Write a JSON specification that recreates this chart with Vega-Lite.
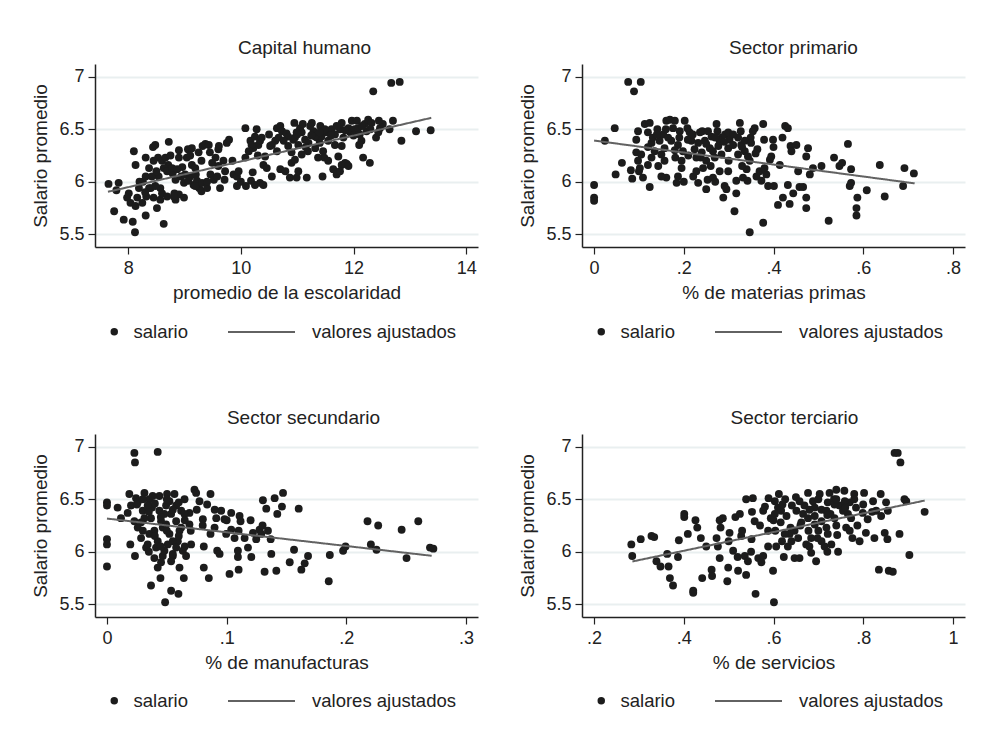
{
  "$schema": "https://vega.github.io/schema/vega-lite/v6.json",
  "background": "white",
  "padding": {"left": 31, "top": 39, "right": 10, "bottom": 5},
  "columns": 2,
  "spacing": {"row": 67, "column": 40},
  "resolve": {"scale": {"color": "independent", "strokeDash": "independent"}, "legend": {"color": "independent", "strokeDash": "independent"}},
  "datasets": {
    "h": [{"x":7.65,"y":5.98},{"x":7.83,"y":5.99},{"x":7.79,"y":5.92},{"x":7.75,"y":5.72},{"x":7.92,"y":5.64},{"x":8.08,"y":5.62},{"x":8.12,"y":5.52},{"x":8.31,"y":5.68},{"x":8.10,"y":6.29},{"x":8.13,"y":6.16},{"x":8.01,"y":5.89},{"x":7.98,"y":5.85},{"x":8.04,"y":5.80},{"x":8.13,"y":5.77},{"x":8.25,"y":5.80},{"x":8.26,"y":6.00},{"x":8.32,"y":5.86},{"x":8.31,"y":6.23},{"x":8.37,"y":6.13},{"x":8.40,"y":5.94},{"x":8.44,"y":6.33},{"x":8.48,"y":6.35},{"x":8.45,"y":5.85},{"x":8.51,"y":5.75},{"x":8.57,"y":5.83},{"x":8.63,"y":5.60},{"x":8.57,"y":5.94},{"x":8.54,"y":6.05},{"x":8.53,"y":6.23},{"x":8.60,"y":6.20},{"x":8.66,"y":6.23},{"x":8.72,"y":6.38},{"x":8.71,"y":6.16},{"x":8.79,"y":6.08},{"x":8.82,"y":5.89},{"x":8.84,"y":5.83},{"x":8.90,"y":5.88},{"x":8.99,"y":5.85},{"x":8.90,"y":6.23},{"x":8.96,"y":6.14},{"x":8.94,"y":6.05},{"x":8.99,"y":5.99},{"x":9.04,"y":6.23},{"x":9.06,"y":6.31},{"x":9.13,"y":6.32},{"x":9.13,"y":6.16},{"x":9.19,"y":6.13},{"x":9.10,"y":6.05},{"x":9.16,"y":5.97},{"x":9.22,"y":6.01},{"x":9.26,"y":5.94},{"x":9.30,"y":5.91},{"x":9.25,"y":6.28},{"x":9.32,"y":6.34},{"x":9.37,"y":6.36},{"x":9.43,"y":6.35},{"x":9.49,"y":6.18},{"x":9.46,"y":6.07},{"x":9.52,"y":6.02},{"x":9.58,"y":6.05},{"x":9.55,"y":6.23},{"x":9.60,"y":6.31},{"x":9.63,"y":5.94},{"x":9.61,"y":6.34},{"x":9.69,"y":6.20},{"x":9.72,"y":6.10},{"x":9.71,"y":6.02},{"x":9.75,"y":6.37},{"x":9.79,"y":6.40},{"x":9.87,"y":6.07},{"x":9.93,"y":5.96},{"x":9.93,"y":6.05},{"x":9.96,"y":6.10},{"x":10.08,"y":6.51},{"x":10.09,"y":5.96},{"x":10.08,"y":6.23},{"x":10.17,"y":6.39},{"x":10.18,"y":6.01},{"x":10.21,"y":6.09},{"x":10.25,"y":6.43},{"x":10.28,"y":6.50},{"x":10.31,"y":6.35},{"x":10.22,"y":6.32},{"x":10.34,"y":6.39},{"x":10.25,"y":5.97},{"x":10.34,"y":5.99},{"x":10.40,"y":5.97},{"x":10.40,"y":6.16},{"x":10.46,"y":6.13},{"x":10.43,"y":6.24},{"x":10.55,"y":6.05},{"x":10.52,"y":6.34},{"x":10.61,"y":6.39},{"x":10.64,"y":6.51},{"x":10.70,"y":6.53},{"x":10.67,"y":6.42},{"x":10.73,"y":6.48},{"x":10.70,"y":6.12},{"x":10.79,"y":6.10},{"x":10.81,"y":6.46},{"x":10.84,"y":6.34},{"x":10.87,"y":6.04},{"x":10.90,"y":6.18},{"x":10.93,"y":6.40},{"x":10.96,"y":6.21},{"x":10.99,"y":6.04},{"x":11.02,"y":6.35},{"x":11.05,"y":6.51},{"x":11.08,"y":6.47},{"x":11.14,"y":6.40},{"x":11.17,"y":6.04},{"x":11.19,"y":6.29},{"x":11.26,"y":6.56},{"x":11.29,"y":6.48},{"x":11.32,"y":6.32},{"x":11.35,"y":6.42},{"x":11.41,"y":6.53},{"x":11.43,"y":6.43},{"x":11.46,"y":6.29},{"x":11.48,"y":6.23},{"x":11.45,"y":6.05},{"x":11.52,"y":6.47},{"x":11.55,"y":6.39},{"x":11.61,"y":6.50},{"x":11.64,"y":6.12},{"x":11.67,"y":6.35},{"x":11.70,"y":6.07},{"x":11.73,"y":6.24},{"x":11.76,"y":6.50},{"x":11.79,"y":6.56},{"x":11.82,"y":6.42},{"x":11.79,"y":6.34},{"x":11.85,"y":6.18},{"x":11.88,"y":6.17},{"x":11.91,"y":6.51},{"x":11.94,"y":6.47},{"x":11.97,"y":6.58},{"x":12.02,"y":6.50},{"x":12.06,"y":6.58},{"x":12.08,"y":6.51},{"x":12.11,"y":6.45},{"x":12.14,"y":6.39},{"x":12.17,"y":6.23},{"x":12.20,"y":6.55},{"x":12.23,"y":6.48},{"x":12.26,"y":6.59},{"x":12.29,"y":6.18},{"x":12.32,"y":6.56},{"x":12.35,"y":6.86},{"x":12.40,"y":6.42},{"x":12.44,"y":6.47},{"x":12.47,"y":6.51},{"x":12.52,"y":6.55},{"x":12.64,"y":6.50},{"x":12.67,"y":6.94},{"x":12.70,"y":6.58},{"x":12.82,"y":6.95},{"x":12.85,"y":6.39},{"x":13.11,"y":6.48},{"x":13.37,"y":6.49},{"x":10.84,"y":6.43},{"x":10.96,"y":6.42},{"x":11.20,"y":6.37},{"x":11.32,"y":6.43},{"x":11.55,"y":6.47},{"x":11.67,"y":6.45},{"x":11.49,"y":6.50},{"x":11.23,"y":6.53},{"x":10.99,"y":6.47},{"x":10.76,"y":6.39},{"x":10.55,"y":6.35},{"x":10.37,"y":6.42},{"x":10.19,"y":6.35},{"x":10.14,"y":6.29},{"x":10.64,"y":6.29},{"x":10.90,"y":6.28},{"x":11.08,"y":6.26},{"x":11.37,"y":6.23},{"x":11.55,"y":6.20},{"x":11.79,"y":6.16},{"x":11.91,"y":6.15},{"x":11.76,"y":6.10},{"x":11.02,"y":6.10},{"x":8.19,"y":5.94},{"x":8.31,"y":6.05},{"x":8.42,"y":6.05},{"x":8.45,"y":6.20},{"x":8.63,"y":6.13},{"x":8.69,"y":6.10},{"x":8.78,"y":6.13},{"x":8.87,"y":6.12},{"x":9.01,"y":6.07},{"x":9.07,"y":6.01},{"x":9.19,"y":5.96},{"x":9.31,"y":5.99},{"x":9.40,"y":5.94},{"x":8.84,"y":6.02},{"x":8.60,"y":5.89},{"x":8.69,"y":5.86},{"x":8.48,"y":5.96},{"x":8.81,"y":5.86},{"x":8.37,"y":5.94},{"x":8.16,"y":5.85},{"x":11.0,"y":6.45},{"x":11.1,"y":6.55},{"x":11.25,"y":6.44},{"x":11.4,"y":6.47},{"x":11.6,"y":6.44},{"x":11.7,"y":6.53},{"x":11.85,"y":6.49},{"x":12.0,"y":6.44},{"x":12.15,"y":6.53},{"x":12.3,"y":6.5},{"x":12.45,"y":6.58},{"x":12.1,"y":6.35},{"x":11.4,"y":6.37},{"x":11.15,"y":6.33},{"x":10.95,"y":6.56},{"x":9.1,"y":6.25},{"x":9.3,"y":6.2},{"x":9.45,"y":6.28},{"x":9.6,"y":6.15},{"x":9.85,"y":6.2},{"x":9.2,"y":6.07},{"x":9.4,"y":6.0},{"x":8.9,"y":6.3},{"x":8.75,"y":6.25},{"x":8.5,"y":6.1},{"x":8.3,"y":5.9},{"x":8.2,"y":6.0},{"x":10.0,"y":6.0},{"x":10.3,"y":6.25},{"x":10.5,"y":6.45}],
    "p": [{"x":0.000,"y":5.97},{"x":0.000,"y":5.85},{"x":0.000,"y":5.82},{"x":0.024,"y":6.39},{"x":0.046,"y":6.51},{"x":0.048,"y":6.07},{"x":0.062,"y":6.18},{"x":0.076,"y":6.95},{"x":0.089,"y":6.86},{"x":0.104,"y":6.95},{"x":0.082,"y":6.11},{"x":0.085,"y":6.03},{"x":0.094,"y":6.40},{"x":0.098,"y":6.48},{"x":0.094,"y":6.28},{"x":0.098,"y":6.20},{"x":0.102,"y":6.13},{"x":0.109,"y":6.04},{"x":0.113,"y":6.55},{"x":0.120,"y":6.47},{"x":0.124,"y":6.56},{"x":0.124,"y":5.95},{"x":0.120,"y":6.16},{"x":0.128,"y":6.37},{"x":0.135,"y":6.29},{"x":0.131,"y":6.42},{"x":0.141,"y":6.50},{"x":0.143,"y":6.15},{"x":0.146,"y":6.39},{"x":0.154,"y":6.45},{"x":0.157,"y":6.20},{"x":0.161,"y":6.04},{"x":0.161,"y":6.58},{"x":0.169,"y":6.59},{"x":0.172,"y":6.39},{"x":0.176,"y":6.51},{"x":0.180,"y":6.58},{"x":0.181,"y":6.23},{"x":0.184,"y":5.99},{"x":0.187,"y":6.05},{"x":0.191,"y":6.48},{"x":0.195,"y":6.20},{"x":0.202,"y":6.58},{"x":0.198,"y":6.29},{"x":0.208,"y":6.51},{"x":0.213,"y":6.47},{"x":0.217,"y":6.39},{"x":0.221,"y":6.05},{"x":0.224,"y":6.31},{"x":0.228,"y":6.10},{"x":0.232,"y":5.99},{"x":0.236,"y":6.47},{"x":0.238,"y":6.23},{"x":0.241,"y":6.48},{"x":0.243,"y":6.13},{"x":0.247,"y":6.39},{"x":0.250,"y":5.93},{"x":0.253,"y":6.02},{"x":0.258,"y":6.32},{"x":0.262,"y":6.43},{"x":0.265,"y":6.04},{"x":0.269,"y":6.23},{"x":0.273,"y":6.55},{"x":0.275,"y":6.48},{"x":0.277,"y":6.34},{"x":0.284,"y":6.42},{"x":0.288,"y":5.85},{"x":0.291,"y":5.96},{"x":0.295,"y":5.93},{"x":0.292,"y":6.45},{"x":0.299,"y":6.32},{"x":0.302,"y":6.40},{"x":0.313,"y":5.72},{"x":0.317,"y":5.89},{"x":0.317,"y":6.01},{"x":0.321,"y":6.26},{"x":0.325,"y":6.56},{"x":0.327,"y":6.48},{"x":0.328,"y":6.35},{"x":0.332,"y":6.04},{"x":0.336,"y":6.29},{"x":0.340,"y":6.12},{"x":0.342,"y":6.01},{"x":0.343,"y":6.24},{"x":0.347,"y":5.52},{"x":0.349,"y":6.42},{"x":0.354,"y":6.48},{"x":0.358,"y":6.51},{"x":0.362,"y":6.05},{"x":0.364,"y":6.31},{"x":0.369,"y":6.10},{"x":0.373,"y":6.01},{"x":0.377,"y":6.55},{"x":0.377,"y":5.61},{"x":0.379,"y":6.40},{"x":0.384,"y":6.07},{"x":0.388,"y":5.96},{"x":0.392,"y":6.21},{"x":0.395,"y":6.24},{"x":0.399,"y":6.40},{"x":0.401,"y":5.96},{"x":0.410,"y":5.78},{"x":0.414,"y":6.16},{"x":0.421,"y":5.85},{"x":0.426,"y":6.53},{"x":0.432,"y":6.51},{"x":0.432,"y":5.97},{"x":0.436,"y":5.79},{"x":0.438,"y":6.34},{"x":0.440,"y":6.29},{"x":0.444,"y":5.89},{"x":0.451,"y":6.35},{"x":0.455,"y":6.10},{"x":0.458,"y":5.95},{"x":0.466,"y":5.95},{"x":0.473,"y":5.85},{"x":0.473,"y":5.75},{"x":0.473,"y":6.24},{"x":0.477,"y":6.32},{"x":0.481,"y":6.07},{"x":0.488,"y":6.13},{"x":0.507,"y":6.15},{"x":0.523,"y":5.63},{"x":0.535,"y":6.23},{"x":0.547,"y":6.15},{"x":0.553,"y":6.18},{"x":0.566,"y":6.36},{"x":0.570,"y":5.96},{"x":0.573,"y":6.12},{"x":0.573,"y":5.99},{"x":0.585,"y":5.75},{"x":0.587,"y":5.85},{"x":0.585,"y":5.68},{"x":0.608,"y":5.92},{"x":0.637,"y":6.16},{"x":0.648,"y":5.86},{"x":0.689,"y":5.96},{"x":0.692,"y":6.13},{"x":0.713,"y":6.08},{"x":0.157,"y":6.32},{"x":0.165,"y":6.42},{"x":0.187,"y":6.35},{"x":0.209,"y":6.40},{"x":0.232,"y":6.37},{"x":0.254,"y":6.48},{"x":0.265,"y":6.29},{"x":0.280,"y":6.39},{"x":0.284,"y":6.26},{"x":0.299,"y":6.47},{"x":0.310,"y":6.35},{"x":0.321,"y":6.42},{"x":0.336,"y":6.39},{"x":0.150,"y":6.26},{"x":0.195,"y":6.13},{"x":0.228,"y":6.23},{"x":0.250,"y":6.20},{"x":0.128,"y":6.23},{"x":0.105,"y":6.26},{"x":0.299,"y":6.10},{"x":0.380,"y":6.13},{"x":0.347,"y":6.20},{"x":0.14,"y":6.45},{"x":0.16,"y":6.5},{"x":0.19,"y":6.42},{"x":0.22,"y":6.45},{"x":0.25,"y":6.36},{"x":0.27,"y":6.42},{"x":0.29,"y":6.38},{"x":0.31,"y":6.45},{"x":0.33,"y":6.33},{"x":0.35,"y":6.37},{"x":0.18,"y":6.3},{"x":0.21,"y":6.25},{"x":0.24,"y":6.28},{"x":0.26,"y":6.15},{"x":0.28,"y":6.1},{"x":0.3,"y":6.2},{"x":0.33,"y":6.15},{"x":0.36,"y":6.27},{"x":0.4,"y":6.33},{"x":0.42,"y":6.42},{"x":0.12,"y":6.33},{"x":0.1,"y":6.1},{"x":0.15,"y":6.05},{"x":0.2,"y":6.0},{"x":0.27,"y":6.0}],
    "s": [{"x":0,"y":6.47},{"x":0,"y":6.44},{"x":0,"y":6.12},{"x":0,"y":6.07},{"x":0,"y":5.86},{"x":0.0089,"y":6.42},{"x":0.0117,"y":6.32},{"x":0.0173,"y":6.37},{"x":0.0187,"y":6.55},{"x":0.0195,"y":6.07},{"x":0.0229,"y":6.94},{"x":0.0234,"y":6.85},{"x":0.0234,"y":5.96},{"x":0.0424,"y":6.95},{"x":0.0243,"y":6.51},{"x":0.0257,"y":6.23},{"x":0.0285,"y":6.13},{"x":0.0313,"y":6.56},{"x":0.0299,"y":6.39},{"x":0.0340,"y":6.07},{"x":0.0354,"y":6.50},{"x":0.0368,"y":5.68},{"x":0.0368,"y":6.32},{"x":0.0376,"y":6.42},{"x":0.0396,"y":6.20},{"x":0.0410,"y":6.04},{"x":0.0424,"y":5.85},{"x":0.0438,"y":6.53},{"x":0.0447,"y":5.75},{"x":0.0452,"y":6.29},{"x":0.0466,"y":5.96},{"x":0.0486,"y":5.52},{"x":0.0494,"y":6.44},{"x":0.0502,"y":6.55},{"x":0.0508,"y":6.07},{"x":0.0522,"y":6.17},{"x":0.0536,"y":5.63},{"x":0.0536,"y":6.36},{"x":0.0550,"y":5.96},{"x":0.0564,"y":6.55},{"x":0.0578,"y":6.29},{"x":0.0592,"y":6.10},{"x":0.0597,"y":5.60},{"x":0.0606,"y":5.85},{"x":0.0620,"y":6.39},{"x":0.0634,"y":6.01},{"x":0.0642,"y":5.75},{"x":0.0648,"y":6.50},{"x":0.0661,"y":5.96},{"x":0.0689,"y":6.37},{"x":0.0703,"y":6.07},{"x":0.0731,"y":6.59},{"x":0.0745,"y":6.56},{"x":0.0773,"y":6.48},{"x":0.0801,"y":6.31},{"x":0.0809,"y":6.05},{"x":0.0809,"y":5.85},{"x":0.0837,"y":6.45},{"x":0.0851,"y":5.75},{"x":0.0865,"y":6.55},{"x":0.0865,"y":6.17},{"x":0.0899,"y":6.23},{"x":0.0913,"y":6.32},{"x":0.0921,"y":6.01},{"x":0.0941,"y":5.98},{"x":0.0954,"y":6.39},{"x":0.0982,"y":6.31},{"x":0.0996,"y":6.17},{"x":0.1024,"y":5.79},{"x":0.1038,"y":6.37},{"x":0.1038,"y":6.21},{"x":0.1066,"y":6.13},{"x":0.1094,"y":6.01},{"x":0.1094,"y":5.95},{"x":0.1100,"y":5.83},{"x":0.1108,"y":6.34},{"x":0.1116,"y":6.29},{"x":0.1150,"y":6.13},{"x":0.1178,"y":6.04},{"x":0.1206,"y":5.95},{"x":0.1220,"y":6.18},{"x":0.1247,"y":6.12},{"x":0.1275,"y":6.21},{"x":0.1289,"y":6.17},{"x":0.1303,"y":6.49},{"x":0.1317,"y":5.81},{"x":0.1331,"y":6.41},{"x":0.1345,"y":6.20},{"x":0.1368,"y":6.12},{"x":0.1373,"y":5.98},{"x":0.1401,"y":6.51},{"x":0.1415,"y":5.82},{"x":0.1423,"y":6.36},{"x":0.1462,"y":6.43},{"x":0.1471,"y":6.56},{"x":0.1527,"y":5.90},{"x":0.1563,"y":6.02},{"x":0.1602,"y":6.41},{"x":0.1624,"y":5.83},{"x":0.1652,"y":5.89},{"x":0.1680,"y":5.96},{"x":0.1853,"y":5.72},{"x":0.1862,"y":5.97},{"x":0.1973,"y":6.01},{"x":0.1993,"y":6.05},{"x":0.2177,"y":6.29},{"x":0.2205,"y":6.07},{"x":0.2252,"y":6.02},{"x":0.2266,"y":6.25},{"x":0.2462,"y":6.21},{"x":0.2503,"y":5.94},{"x":0.2601,"y":6.29},{"x":0.2699,"y":6.04},{"x":0.2727,"y":6.03},{"x":0.0201,"y":6.44},{"x":0.0257,"y":6.47},{"x":0.0313,"y":6.32},{"x":0.0340,"y":6.44},{"x":0.0382,"y":6.53},{"x":0.0438,"y":6.39},{"x":0.0466,"y":6.23},{"x":0.0494,"y":6.26},{"x":0.0522,"y":6.48},{"x":0.0578,"y":6.44},{"x":0.0620,"y":6.23},{"x":0.0285,"y":6.28},{"x":0.0354,"y":6.17},{"x":0.0424,"y":6.10},{"x":0.0480,"y":6.01},{"x":0.0536,"y":5.91},{"x":0.0452,"y":5.90},{"x":0.0396,"y":5.94},{"x":0.0648,"y":6.36},{"x":0.0606,"y":6.20},{"x":0.0689,"y":6.26},{"x":0.0550,"y":6.10},{"x":0.0229,"y":6.29},{"x":0.0327,"y":6.04},{"x":0.0578,"y":6.04},{"x":0.0480,"y":6.36},{"x":0.025,"y":6.45},{"x":0.03,"y":6.5},{"x":0.035,"y":6.38},{"x":0.04,"y":6.46},{"x":0.045,"y":6.33},{"x":0.05,"y":6.5},{"x":0.055,"y":6.4},{"x":0.06,"y":6.47},{"x":0.065,"y":6.3},{"x":0.03,"y":6.2},{"x":0.04,"y":6.15},{"x":0.05,"y":6.2},{"x":0.06,"y":6.15},{"x":0.07,"y":6.2},{"x":0.045,"y":6.05},{"x":0.055,"y":5.98},{"x":0.065,"y":6.05},{"x":0.035,"y":6.0},{"x":0.075,"y":6.4},{"x":0.08,"y":6.25},{"x":0.09,"y":6.4},{"x":0.1,"y":6.3},{"x":0.11,"y":6.2},{"x":0.12,"y":6.3},{"x":0.13,"y":6.25}],
    "t": [{"x":0.283,"y":6.07},{"x":0.285,"y":5.96},{"x":0.304,"y":6.12},{"x":0.328,"y":6.15},{"x":0.334,"y":6.14},{"x":0.339,"y":5.91},{"x":0.348,"y":5.86},{"x":0.363,"y":5.98},{"x":0.366,"y":5.86},{"x":0.369,"y":5.75},{"x":0.376,"y":5.68},{"x":0.387,"y":5.95},{"x":0.389,"y":6.11},{"x":0.401,"y":6.36},{"x":0.401,"y":6.33},{"x":0.409,"y":6.17},{"x":0.426,"y":6.30},{"x":0.430,"y":6.23},{"x":0.421,"y":5.63},{"x":0.421,"y":5.61},{"x":0.438,"y":6.13},{"x":0.441,"y":5.75},{"x":0.462,"y":5.83},{"x":0.463,"y":5.77},{"x":0.473,"y":6.13},{"x":0.476,"y":6.05},{"x":0.480,"y":5.94},{"x":0.482,"y":6.23},{"x":0.487,"y":6.32},{"x":0.497,"y":5.72},{"x":0.499,"y":5.85},{"x":0.502,"y":6.18},{"x":0.510,"y":6.01},{"x":0.515,"y":6.33},{"x":0.521,"y":5.82},{"x":0.525,"y":6.36},{"x":0.528,"y":6.15},{"x":0.536,"y":5.96},{"x":0.539,"y":5.78},{"x":0.539,"y":6.50},{"x":0.543,"y":5.91},{"x":0.551,"y":6.12},{"x":0.552,"y":6.38},{"x":0.554,"y":6.51},{"x":0.558,"y":6.29},{"x":0.560,"y":5.60},{"x":0.566,"y":5.94},{"x":0.573,"y":5.90},{"x":0.577,"y":6.39},{"x":0.577,"y":5.96},{"x":0.581,"y":6.43},{"x":0.588,"y":6.05},{"x":0.589,"y":6.51},{"x":0.594,"y":6.32},{"x":0.599,"y":5.82},{"x":0.601,"y":5.52},{"x":0.603,"y":6.48},{"x":0.604,"y":6.20},{"x":0.606,"y":6.05},{"x":0.610,"y":6.42},{"x":0.612,"y":6.55},{"x":0.616,"y":6.28},{"x":0.619,"y":6.10},{"x":0.623,"y":5.95},{"x":0.626,"y":6.50},{"x":0.629,"y":6.34},{"x":0.632,"y":6.05},{"x":0.638,"y":6.23},{"x":0.641,"y":6.44},{"x":0.647,"y":5.94},{"x":0.651,"y":6.39},{"x":0.655,"y":6.13},{"x":0.658,"y":5.94},{"x":0.662,"y":6.28},{"x":0.666,"y":6.36},{"x":0.669,"y":6.44},{"x":0.673,"y":6.07},{"x":0.677,"y":6.56},{"x":0.678,"y":6.20},{"x":0.684,"y":5.99},{"x":0.688,"y":6.48},{"x":0.692,"y":6.34},{"x":0.695,"y":5.91},{"x":0.698,"y":6.13},{"x":0.703,"y":6.55},{"x":0.707,"y":6.40},{"x":0.714,"y":6.05},{"x":0.718,"y":6.23},{"x":0.721,"y":6.47},{"x":0.725,"y":6.56},{"x":0.727,"y":6.36},{"x":0.729,"y":6.07},{"x":0.735,"y":6.50},{"x":0.740,"y":6.59},{"x":0.742,"y":6.16},{"x":0.744,"y":6.00},{"x":0.747,"y":6.44},{"x":0.758,"y":6.58},{"x":0.762,"y":6.23},{"x":0.766,"y":6.36},{"x":0.770,"y":6.47},{"x":0.776,"y":6.13},{"x":0.780,"y":6.55},{"x":0.784,"y":6.42},{"x":0.787,"y":6.25},{"x":0.792,"y":6.10},{"x":0.799,"y":6.37},{"x":0.802,"y":6.56},{"x":0.806,"y":6.18},{"x":0.810,"y":6.31},{"x":0.822,"y":6.48},{"x":0.825,"y":6.13},{"x":0.829,"y":6.39},{"x":0.835,"y":5.83},{"x":0.839,"y":6.55},{"x":0.840,"y":6.34},{"x":0.848,"y":6.18},{"x":0.851,"y":6.47},{"x":0.854,"y":6.12},{"x":0.855,"y":6.39},{"x":0.857,"y":5.82},{"x":0.866,"y":5.81},{"x":0.870,"y":6.94},{"x":0.877,"y":6.94},{"x":0.883,"y":6.85},{"x":0.881,"y":6.17},{"x":0.892,"y":6.50},{"x":0.896,"y":6.48},{"x":0.903,"y":5.97},{"x":0.937,"y":6.38},{"x":0.617,"y":6.39},{"x":0.636,"y":6.17},{"x":0.658,"y":6.48},{"x":0.677,"y":6.32},{"x":0.692,"y":6.26},{"x":0.707,"y":6.29},{"x":0.736,"y":6.32},{"x":0.755,"y":6.39},{"x":0.707,"y":6.10},{"x":0.684,"y":6.13},{"x":0.647,"y":6.20},{"x":0.625,"y":6.17},{"x":0.692,"y":6.42},{"x":0.718,"y":6.39},{"x":0.736,"y":6.45},{"x":0.759,"y":6.48},{"x":0.773,"y":6.32},{"x":0.603,"y":6.36},{"x":0.588,"y":6.20},{"x":0.721,"y":6.17},{"x":0.62,"y":6.45},{"x":0.65,"y":6.52},{"x":0.68,"y":6.4},{"x":0.7,"y":6.5},{"x":0.72,"y":6.35},{"x":0.74,"y":6.5},{"x":0.76,"y":6.42},{"x":0.78,"y":6.5},{"x":0.8,"y":6.45},{"x":0.82,"y":6.38},{"x":0.66,"y":6.25},{"x":0.7,"y":6.2},{"x":0.74,"y":6.25},{"x":0.77,"y":6.2},{"x":0.64,"y":6.1},{"x":0.68,"y":6.05},{"x":0.72,"y":6.0},{"x":0.6,"y":6.3},{"x":0.57,"y":6.25},{"x":0.55,"y":6.0},{"x":0.5,"y":6.1},{"x":0.52,"y":5.95},{"x":0.45,"y":6.05},{"x":0.48,"y":6.3},{"x":0.53,"y":6.2}],
    "hf": [{"x":7.64,"y":5.905},{"x":13.38,"y":6.608}],
    "pf": [{"x":0,"y":6.392},{"x":0.7147,"y":5.985}],
    "sf": [{"x":0,"y":6.316},{"x":0.2713,"y":5.962}],
    "tf": [{"x":0.2854,"y":5.908},{"x":0.937,"y":6.487}]
  },
  "concat": [
    {
      "width": 383, "height": 183,
      "title": {"text": "Capital humano", "dx": 18},
      "layer": [
        {"data": {"name": "h"}, "mark": {"type": "point", "filled": true, "size": 62, "opacity": 1},
         "encoding": {
           "x": {"field": "x", "type": "quantitative", "scale": {"domain": [7.41, 14.21], "nice": false, "zero": false}, "axis": {"values": [8, 10, 12, 14], "title": "promedio de la escolaridad", "labelExpr": "toString(datum.value)"}},
           "y": {"field": "y", "type": "quantitative", "scale": {"domain": [5.38, 7.12], "nice": false, "zero": false}, "axis": {"values": [5.5, 6, 6.5, 7], "title": "Salario promedio", "grid": true, "labelExpr": "toString(datum.value)"}},
           "color": {"datum": "salario", "type": "nominal", "scale": {"domain": ["salario"], "range": ["#1c1c1c"]},
             "legend": {"orient": "none", "legendX": 10, "legendY": 258.5, "title": null, "symbolType": "circle", "symbolSize": 56, "symbolStrokeWidth": 0, "labelOffset": 10}}
         }},
        {"data": {"name": "hf"}, "mark": {"type": "line", "strokeWidth": 2, "color": "#626262"},
         "encoding": {"x": {"field": "x", "type": "quantitative"}, "y": {"field": "y", "type": "quantitative"},
           "strokeDash": {"datum": "valores ajustados", "type": "nominal", "scale": {"domain": ["valores ajustados"], "range": [[1, 0]]},
             "legend": {"orient": "none", "legendX": 132, "legendY": 233.5, "title": null, "symbolType": "stroke", "symbolSize": 4489, "symbolStrokeWidth": 2, "symbolStrokeColor": "#626262", "labelOffset": 16}}}}
      ]
    },
    {
      "width": 383, "height": 183,
      "title": {"text": "Sector primario", "dx": 20},
      "layer": [
        {"data": {"name": "p"}, "mark": {"type": "point", "filled": true, "size": 62, "opacity": 1},
         "encoding": {
           "x": {"field": "x", "type": "quantitative", "scale": {"domain": [-0.027, 0.827], "nice": false, "zero": false}, "axis": {"values": [0, 0.2, 0.4, 0.6, 0.8], "title": "% de materias primas", "labelExpr": "datum.value > 0 && datum.value < 1 ? substring(toString(datum.value), 1) : toString(datum.value)"}},
           "y": {"field": "y", "type": "quantitative", "scale": {"domain": [5.38, 7.12], "nice": false, "zero": false}, "axis": {"values": [5.5, 6, 6.5, 7], "title": "Salario promedio", "grid": true, "labelExpr": "toString(datum.value)"}},
           "color": {"datum": "salario", "type": "nominal", "scale": {"domain": ["salario"], "range": ["#1c1c1c"]},
             "legend": {"orient": "none", "legendX": 10, "legendY": 258.5, "title": null, "symbolType": "circle", "symbolSize": 56, "symbolStrokeWidth": 0, "labelOffset": 10}}
         }},
        {"data": {"name": "pf"}, "mark": {"type": "line", "strokeWidth": 2, "color": "#626262"},
         "encoding": {"x": {"field": "x", "type": "quantitative"}, "y": {"field": "y", "type": "quantitative"},
           "strokeDash": {"datum": "valores ajustados", "type": "nominal", "scale": {"domain": ["valores ajustados"], "range": [[1, 0]]},
             "legend": {"orient": "none", "legendX": 132, "legendY": 233.5, "title": null, "symbolType": "stroke", "symbolSize": 4489, "symbolStrokeWidth": 2, "symbolStrokeColor": "#626262", "labelOffset": 16}}}}
      ]
    },
    {
      "width": 383, "height": 183,
      "title": {"text": "Sector secundario", "dx": 17},
      "layer": [
        {"data": {"name": "s"}, "mark": {"type": "point", "filled": true, "size": 62, "opacity": 1},
         "encoding": {
           "x": {"field": "x", "type": "quantitative", "scale": {"domain": [-0.01, 0.31], "nice": false, "zero": false}, "axis": {"values": [0, 0.1, 0.2, 0.3], "title": "% de manufacturas", "labelExpr": "datum.value > 0 && datum.value < 1 ? substring(toString(datum.value), 1) : toString(datum.value)"}},
           "y": {"field": "y", "type": "quantitative", "scale": {"domain": [5.38, 7.12], "nice": false, "zero": false}, "axis": {"values": [5.5, 6, 6.5, 7], "title": "Salario promedio", "grid": true, "labelExpr": "toString(datum.value)"}},
           "color": {"datum": "salario", "type": "nominal", "scale": {"domain": ["salario"], "range": ["#1c1c1c"]},
             "legend": {"orient": "none", "legendX": 10, "legendY": 257.5, "title": null, "symbolType": "circle", "symbolSize": 56, "symbolStrokeWidth": 0, "labelOffset": 10}}
         }},
        {"data": {"name": "sf"}, "mark": {"type": "line", "strokeWidth": 2, "color": "#626262"},
         "encoding": {"x": {"field": "x", "type": "quantitative"}, "y": {"field": "y", "type": "quantitative"},
           "strokeDash": {"datum": "valores ajustados", "type": "nominal", "scale": {"domain": ["valores ajustados"], "range": [[1, 0]]},
             "legend": {"orient": "none", "legendX": 132, "legendY": 232.5, "title": null, "symbolType": "stroke", "symbolSize": 4489, "symbolStrokeWidth": 2, "symbolStrokeColor": "#626262", "labelOffset": 16}}}}
      ]
    },
    {
      "width": 383, "height": 183,
      "title": {"text": "Sector terciario", "dx": 21},
      "layer": [
        {"data": {"name": "t"}, "mark": {"type": "point", "filled": true, "size": 62, "opacity": 1},
         "encoding": {
           "x": {"field": "x", "type": "quantitative", "scale": {"domain": [0.173, 1.027], "nice": false, "zero": false}, "axis": {"values": [0.2, 0.4, 0.6, 0.8, 1], "title": "% de servicios", "labelExpr": "datum.value > 0 && datum.value < 1 ? substring(toString(datum.value), 1) : toString(datum.value)"}},
           "y": {"field": "y", "type": "quantitative", "scale": {"domain": [5.38, 7.12], "nice": false, "zero": false}, "axis": {"values": [5.5, 6, 6.5, 7], "title": "Salario promedio", "grid": true, "labelExpr": "toString(datum.value)"}},
           "color": {"datum": "salario", "type": "nominal", "scale": {"domain": ["salario"], "range": ["#1c1c1c"]},
             "legend": {"orient": "none", "legendX": 10, "legendY": 257.5, "title": null, "symbolType": "circle", "symbolSize": 56, "symbolStrokeWidth": 0, "labelOffset": 10}}
         }},
        {"data": {"name": "tf"}, "mark": {"type": "line", "strokeWidth": 2, "color": "#626262"},
         "encoding": {"x": {"field": "x", "type": "quantitative"}, "y": {"field": "y", "type": "quantitative"},
           "strokeDash": {"datum": "valores ajustados", "type": "nominal", "scale": {"domain": ["valores ajustados"], "range": [[1, 0]]},
             "legend": {"orient": "none", "legendX": 132, "legendY": 232.5, "title": null, "symbolType": "stroke", "symbolSize": 4489, "symbolStrokeWidth": 2, "symbolStrokeColor": "#626262", "labelOffset": 16}}}}
      ]
    }
  ],
  "config": {
    "font": "Liberation Sans",
    "view": {"stroke": null},
    "title": {"fontSize": 19, "fontWeight": "normal", "color": "#222222", "offset": 6, "anchor": "middle"},
    "axis": {"labelFontSize": 18, "titleFontSize": 19, "titleFontWeight": "normal", "labelColor": "#222222", "titleColor": "#222222", "domainColor": "#222222", "domainWidth": 1.5, "tickColor": "#222222", "tickSize": 7, "tickWidth": 1.2, "grid": false, "gridColor": "#e9eff0", "gridWidth": 2, "labelFlush": false, "labelOverlap": false},
    "axisY": {"labelPadding": 4, "titlePadding": 8},
    "axisX": {"labelPadding": 5, "titlePadding": 6},
    "legend": {"labelFontSize": 18.5, "labelColor": "#222222", "padding": 0, "rowPadding": 0}
  }
}
